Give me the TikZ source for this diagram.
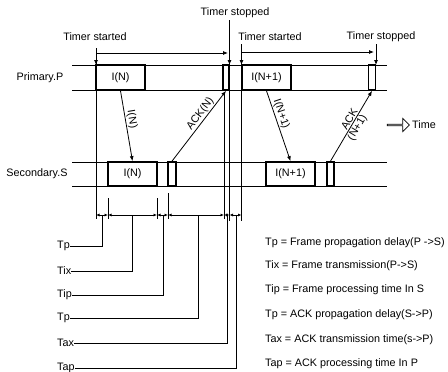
\documentclass[tikz,border=0pt]{standalone}
\usepackage{fontspec}
\setmainfont{Liberation Sans}
\usetikzlibrary{arrows.meta,shapes.arrows}
\tikzset{
  every node/.style={font=\fontsize{10.8}{11}\selectfont, inner sep=1pt},
  tl/.style={line width=0.8pt},
  framebox/.style={draw, line width=1.7pt, minimum height=25pt, inner sep=0pt},
  sbox/.style={framebox, minimum height=24pt},
  arr/.style={-{Latex[length=5pt,width=4pt]}, line width=0.8pt},
  dimline/.style={{Latex[length=3.5pt,width=3pt]}-{Latex[length=3.5pt,width=3pt]}, line width=0.8pt},
  lbl/.style={anchor=west, inner sep=0pt},
}
\begin{document}
\begin{tikzpicture}[x=1pt,y=-1pt]
\useasboundingbox (0,0) rectangle (448,372);

% time lines
\draw[tl] (72,65) -- (387,65);
\draw[tl] (72,90) -- (387,90);
\draw[tl] (72,162) -- (387,162);
\draw[tl] (72,186) -- (387,186);

\node (prim) at (40,78) {Primary.P};
\node (sec) at (37,174) {Secondary.S};

% primary boxes
\node[framebox, minimum width=49pt] (pIN) at (120.5,77.5) {I(N)};
\node[framebox, minimum width=6pt] (pA1) at (226,77.5) {};
\node[framebox, minimum width=49pt] (pIN1) at (266.5,77.5) {I(N+1)};
\node[framebox, minimum width=7pt] (pA2) at (372,77.5) {};

% secondary boxes
\node[sbox, minimum width=49pt] (sIN) at (132.5,174) {I(N)};
\node[sbox, minimum width=8pt] (sA1) at (172,174) {};
\node[sbox, minimum width=49pt] (sIN1) at (290.5,174) {I(N+1)};
\node[sbox, minimum width=7pt] (sA2) at (330.5,174) {};

% messages
\draw[arr] (pIN.south) -- node[sloped, above, pos=0.42] {I(N)} (sIN.north);
\draw[arr] (sA1.north) -- node[sloped, above, pos=0.62] {ACK(N)} (pA1.south);
\draw[arr] (pIN1.south) -- node[sloped, above, pos=0.36] {I(N+1)} (sIN1.north);
\draw[arr] (sA2.north) -- node[sloped, above, pos=0.56] {ACK} node[sloped, below, pos=0.52] {(N+1)} (pA2.south);

% timer labels
\node (tstart1) at (95,37) {Timer started};
\node (tstop1) at (235,13) {Timer stopped};
\node (tstart2) at (270,37) {Timer started};
\node (tstop2) at (381,37) {Timer stopped};

\coordinate (ta) at (96,53);
\coordinate (tb) at (229.5,53);
\coordinate (tc) at (241.5,52);
\coordinate (td) at (376,52);

\draw[tl] (96,48) -- (96,219);
\draw[arr] (ta) -- (96,65);
\draw[arr] (ta) -- (228,53);
\draw[tl] (229.5,20) -- (229.5,221);
\draw[arr] (tb) -- (229.5,65);
\draw[tl] (224,92) -- (224,219);
\draw[tl] (241.5,44) -- (241.5,221);
\draw[arr] (tc) -- (241.5,65);
\draw[arr] (tc) -- (374,52);
\draw[arr] (376,44) -- (376,65);

% time arrow
\node[single arrow, draw, line width=0.8pt, minimum height=22pt, minimum width=13pt,
      single arrow head extend=3.5pt, inner sep=0pt] (tarr) at (398,125) {};
\node[anchor=west] (time) at (411,125) {Time};

% dimension line
\coordinate (d0) at (96,215);
\coordinate (d1) at (108,215);
\coordinate (d2) at (157,215);
\coordinate (d3) at (168,215);
\coordinate (d4) at (224,215);
\coordinate (d5) at (229.5,215);
\coordinate (d6) at (241.5,215);
\draw[dimline] (d0) -- (d1);
\draw[dimline] (d1) -- (d2);
\draw[dimline] (d2) -- (d3);
\draw[dimline] (d3) -- (d4);
\draw[dimline] (d4) -- (d5);
\draw[dimline] (d5) -- (d6);
\draw[tl] (108,198) -- (108,219);
\draw[tl] (157,198) -- (157,219);
\draw[tl] (168,193) -- (168,219);

% leaders
\node[lbl] (lTp) at (57,246) {Tp};
\node[lbl] (lTix) at (57,271) {Tix};
\node[lbl] (lTip) at (57,295) {Tip};
\node[lbl] (lTp2) at (57,318) {Tp};
\node[lbl] (lTax) at (57,343) {Tax};
\node[lbl] (lTap) at (57,368) {Tap};
\draw[tl] (lTp.east) -| (102,215);
\draw[tl] (lTix.east) -| (132,215);
\draw[tl] (lTip.east) -| (163,215);
\draw[tl] (lTp2.east) -| (198,215);
\draw[tl] (lTax.east) -| (227,215);
\draw[tl] (lTap.east) -| (236,215);

% legend
\node[lbl] (k1) at (265,243) {Tp = Frame propagation delay(P ->S)};
\node[lbl] (k2) at (265,266) {Tix = Frame transmission(P->S)};
\node[lbl] (k3) at (265,290) {Tip = Frame processing time In S};
\node[lbl] (k4) at (265,315) {Tp = ACK propagation delay(S->P)};
\node[lbl] (k5) at (265,340) {Tax = ACK transmission time(s->P)};
\node[lbl] (k6) at (265,364) {Tap = ACK processing time In P};
\end{tikzpicture}
\end{document}
